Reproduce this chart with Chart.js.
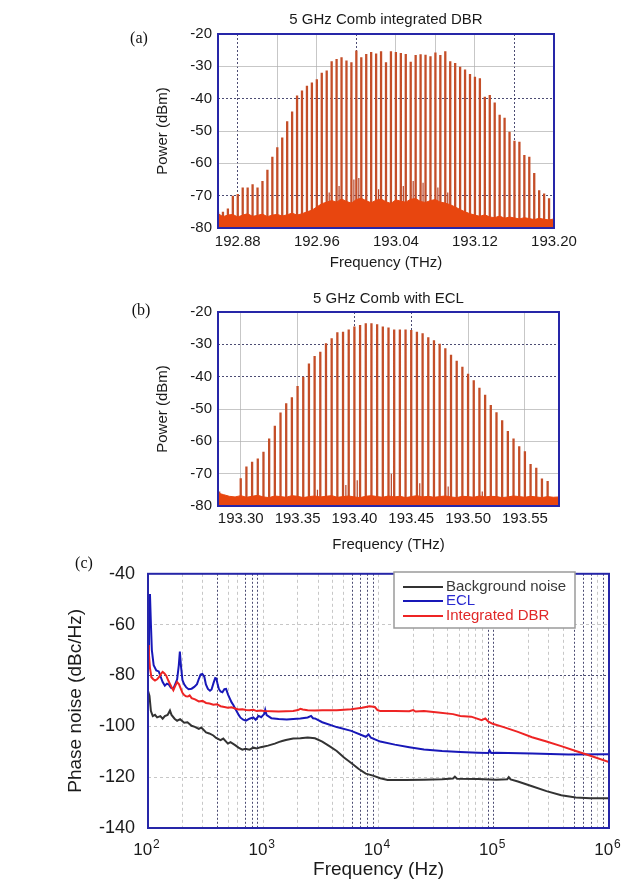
<!DOCTYPE html>
<html>
<head>
<meta charset="utf-8">
<script src="https://cdn.jsdelivr.net/npm/chart.js@4.4.0/dist/chart.umd.min.js"></script>
<style>
  body { margin: 0; background: #fff; }
  .panel { position: absolute; left: 0; }
  canvas { display: block; }
</style>
</head>
<body>
<div class="panel" style="top:0"><canvas id="combA" width="630" height="280"></canvas></div>
<div class="panel" style="top:280px"><canvas id="combB" width="630" height="280"></canvas></div>
<div class="panel" style="top:550px"><canvas id="noise" width="630" height="336"></canvas></div>
<script>
// comb lines are 5 GHz apart (0.005 THz)
const combStep = 0.005;

// ---- (a) 5 GHz comb, integrated DBR ----
const combStartA = 192.860;
const peaksA = [
  -75, -75, -74, -70, -69.5, -67.5, -67.5, -66.5, -67.5, -65.5,
  -62, -58, -55, -52, -47, -44, -39, -37.5, -36, -35,
  -34, -32, -31.3, -28.4, -27.7, -27.2, -28.2, -28.7, -25.1, -27.2,
  -26.2, -25.6, -26, -25.3, -28.7, -25.3, -25.6, -25.9, -26.2, -28.6,
  -26.5, -26.3, -26.4, -26.9, -25.7, -26.5, -25.3, -28.4, -29, -30.1,
  -31, -32.4, -33.2, -33.7, -39.4, -38.9, -41.2, -45, -45.9, -50.2,
  -53, -53.3, -57.4, -58, -63, -68.3, -69.3, -70.8
];
// top of the noise floor, sampled every 5 GHz from 192.86 THz
const floorStartA = 192.860;
const floorA = [
  -75.5, -76.5, -76, -75.8, -76.6, -76, -75.6, -76.4, -76.1, -75.7,
  -76.5, -76, -75.8, -76.3, -75.9, -75.4, -76, -75.6,
  -75, -74.5, -73.5, -72.5, -72,
  -71.5, -72, -71, -71.8, -72.3, -71.2, -70.8, -71.6, -72.2, -71.4,
  -71, -71.9, -72.4, -71.3, -71.7, -72, -71.1, -70.9, -71.8, -72.1,
  -71.5, -71.2, -72, -72.3,
  -72.8, -73.5, -74.3, -75, -75.6,
  -76, -76.4, -75.9, -76.6, -76.8, -76.3, -77, -76.6, -76.9, -77.2,
  -76.8, -77.1, -77.4, -77, -77.3, -77.5, -77.2
];
const sideFreqA = [192.9725, 192.9825, 192.9975, 193.0025, 193.0225, 193.0475, 193.0575, 193.0675, 193.0825, 193.0925];
const sideValA = [-69, -67, -65, -64.5, -68, -67, -65.5, -66, -67.5, -69];
const gridTicksA = [192.88, 192.92, 192.96, 193.00, 193.04, 193.08, 193.12, 193.16, 193.20];
const labelTicksA = [192.88, 192.96, 193.04, 193.12, 193.20];
const darkGridXA = [192.88, 193.00, 193.16];
const darkGridYA = [-40, -70];

// ---- (b) 5 GHz comb with ECL ----
const combStartB = 193.300;
const peaksB = [
  -71.4, -67.8, -66.3, -65.3, -63.2, -59.1, -55.2, -51.1, -48.2, -46.4,
  -42.9, -40, -35.9, -33.6, -32.3, -29.7, -28.1, -26.3, -26.1, -25.4,
  -24.5, -24, -23.5, -23.5, -23.8, -24.5, -24.8, -25.4, -25.4, -25.4,
  -25.6, -26.1, -26.6, -27.8, -28.7, -29.8, -31.2, -33.2, -35.1, -36.9,
  -39.1, -41.1, -43.4, -45.6, -48.8, -51, -53.5, -56.8, -59.1, -61.5,
  -63.1, -67, -68.2, -71.5, -72.3
];
const floorStartB = 193.280;
const floorB = [
  -76, -76.5, -77, -77.2, -76.8, -77.3, -77, -76.7, -77.2, -77.4,
  -76.9, -77.1, -77.3, -76.8, -77, -77.4, -77.1, -76.9, -77.2, -77,
  -76.8, -77.3, -77.1, -76.9, -77.2, -77.4, -77, -76.8, -77.1, -77.3,
  -76.9, -77.2, -77, -77.4, -77.1, -76.8, -77.2, -77, -77.3, -77.1,
  -76.9, -77.2, -77.4, -77, -77.1, -77.3, -76.9, -77.2, -77, -77.1,
  -77.4, -77.2, -76.9, -77.1, -77.3, -77, -77.2, -77.4, -77.1, -77.3,
  -77.2
];
const sideFreqB = [193.2815, 193.3675, 193.3925, 193.4025, 193.4325, 193.4575, 193.4825, 193.5125];
const sideValB = [-75.5, -75, -73.5, -72, -70, -73, -74, -75.5];
const gridTicksB = [193.30, 193.35, 193.40, 193.45, 193.50, 193.55];
const darkGridXB = [193.40, 193.45];
const darkGridYB = [-30, -40];

// ---- (c) phase noise ----
const seriesNames = ['Background noise', 'ECL', 'Integrated DBR'];
const seriesColors = ['#333333', '#1818b8', '#ee2424'];
const legendTextColors = ['#3a3a3a', '#2a2ad0', '#e02828'];

const bgFreq = [100, 103, 106, 110, 115, 120, 128, 134, 140, 148, 155, 160, 170, 179, 190, 206, 220, 239, 255, 276,
  290, 319, 340, 369, 390, 426, 450, 493, 520, 570, 610, 658, 700, 761, 820, 880, 950, 1018, 1100, 1176,
  1260, 1360, 1460, 1572, 1818, 2100, 2430, 2810, 3250, 3750, 4340, 5020, 5800, 6700, 7750, 8960, 10360, 11980, 13850, 17200,
  24800, 35600, 44300, 46000, 48000, 73000, 105000, 131000, 135000, 140000, 162000, 215000, 287000, 385000, 515000, 690000, 1000000];
const bgVal = [-86, -88, -94, -96, -95.5, -96.5, -96, -97, -96, -95.5, -93.8, -95.5, -97, -97.8, -97.2, -98.6, -98.4, -99.8, -100.2, -101,
  -100.5, -102.4, -102.8, -103.6, -104.6, -105.4, -104.8, -106.8, -106.2, -107.4, -108.4, -109.2, -108.8, -109.2, -108.4, -108.7, -108.2, -107.9, -107.6, -107.2,
  -106.8, -106.2, -105.8, -105.4, -104.8, -104.7, -104.4, -104.7, -106, -107.8, -109.7, -112.3, -114.4, -116.7, -118.6, -119.4, -120.4, -121.1, -121.1, -121.1,
  -121, -120.8, -120.5, -119.8, -120.6, -120.7, -121, -120.8, -120, -120.9, -121.7, -123.6, -125.5, -127.1, -128, -128.3, -128.3];

const eclFreq = [100, 102, 104, 106, 108, 112, 118, 124, 130, 134, 140, 146, 152, 158, 166, 172, 179, 185, 189, 193,
  199, 206, 214, 225, 239, 252, 266, 278, 286, 296, 308, 318, 331, 345, 356, 370, 383, 392, 402, 412,
  426, 442, 460, 476, 495, 512, 530, 550, 570, 590, 612, 635, 670, 708, 760, 819, 860, 913, 960, 1018,
  1040, 1070, 1176, 1360, 1600, 1818, 2100, 2430, 2600, 2700, 2810, 3250, 4340, 5800, 7750, 8200, 8600, 10360, 13850, 18500,
  24800, 35600, 51200, 73000, 90000, 92000, 95000, 105000, 215000, 445000, 1000000];
const eclVal = [-72, -58, -48, -60, -70, -76, -78, -78.4, -81, -82.6, -84, -83.2, -83.6, -84.8, -85.2, -83.5, -81.5, -76, -70.6, -76,
  -81.8, -83.5, -84.6, -85.4, -85.2, -84.5, -83.4, -81, -79.6, -79.4, -80.5, -83.5, -85.3, -86, -85.5, -83, -81, -81.2, -83.5, -85.3,
  -86.3, -86.6, -85.4, -85.3, -87.5, -89, -90.5, -91.6, -93, -94.2, -95.5, -96.6, -97.4, -97.8, -97, -96.5, -97.4, -95.9, -96.4, -95.2,
  -93.5, -95.6, -96.8, -97.1, -97.3, -97.1, -96.9, -96.5, -95.9, -96.8, -96.9, -98.4, -100.3, -101.8, -104.1, -103.2, -104.5, -106, -107.2, -108.2,
  -109.1, -109.7, -110.1, -110.4, -110.5, -109.5, -110.5, -110.4, -110.7, -111.1, -111];

const dbrFreq = [100, 102, 104, 107, 111, 115, 120, 124, 130, 134, 139, 144, 150, 155, 160, 166, 172, 179, 186, 192,
  199, 206, 214, 222, 230, 239, 256, 276, 297, 319, 342, 369, 397, 426, 460, 493, 530, 570, 610, 658,
  710, 761, 820, 880, 950, 1018, 1176, 1360, 1570, 1818, 2000, 2100, 2200, 2430, 2800, 3250, 4340, 5800, 7200, 8350,
  9300, 9800, 10360, 13850, 18500, 20000, 21000, 24800, 33000, 44300, 51200, 63700, 78600, 84500, 90000, 97900, 122000, 162000, 215000, 287000,
  385000, 515000, 690000, 1000000];
const dbrVal = [-68, -72, -77, -80.7, -81.5, -82, -81.5, -80.8, -79.3, -78.6, -79.2, -80.1, -82, -83.3, -84.5, -85.8, -84.2, -82.6, -83.5, -85.1,
  -86.8, -87.7, -88.2, -88.3, -87.8, -88.9, -89.4, -90.2, -90, -90.8, -91, -91.5, -91.3, -92.1, -92.4, -92.7, -92.5, -93, -93.4, -93.3,
  -93.6, -93.7, -93.5, -94, -93.8, -94, -94.1, -94.2, -94.1, -94, -93.6, -93.1, -93.4, -93.7, -93.8, -93.7, -93.7, -93.3, -92.7, -92.1,
  -92.4, -93.6, -94, -94, -94.1, -93.6, -94.2, -94, -94.6, -95.2, -95.9, -96.2, -97.6, -96.9, -98.2, -99, -100.3, -102.2, -104.3, -106,
  -107.8, -109.7, -111.6, -114.1];

// decade tick labels: mantissa and exponent
const decadeTicks = [100, 1000, 10000, 100000, 1000000];
const decadeExps = ['2', '3', '4', '5', '6'];
const darkGridXC = [400, 700, 800, 900, 6000, 7000, 8000, 9000, 90000, 100000, 500000, 600000, 700000, 900000];
const darkGridYC = [-80];

// ---- shared styling ----
Chart.defaults.font.family = '"Liberation Sans", Arial, sans-serif';
Chart.defaults.color = '#1a1a1a';

const spikeColor = '#c44e28';
const sideColor = '#b4442a';
const floorColor = '#e8460f';
const frameColor = '#2626a8';
const gridDark = 'rgba(45,45,90,0.85)';
const gridLight = 'rgba(175,175,175,0.7)';

const isIn = (list, v) => list.some(t => Math.abs(t - v) < 1e-6);

// vertical spike for every comb line, returning to the floor in between
function spikes(freqs, vals, base) {
  const pts = [];
  freqs.forEach((f, i) => {
    pts.push({ x: f, y: base }, { x: f, y: vals[i] }, { x: f, y: base });
  });
  return pts;
}
function evenFreqs(start, n) {
  const out = [];
  for (let i = 0; i < n; i++) out.push(+(start + i * combStep).toFixed(4));
  return out;
}
function toPoints(xs, ys) {
  return xs.map((x, i) => ({ x: x, y: ys[i] }));
}

function gridFor(darkList, lightDash) {
  return {
    grid: {
      drawTicks: false,
      lineWidth: 1,
      color: c => (c.tick && isIn(darkList, c.tick.value)) ? gridDark : gridLight
    },
    border: {
      display: false,
      color: gridLight,
      dash: c => c.tick ? (isIn(darkList, c.tick.value) ? [2, 2] : lightDash) : []
    }
  };
}

// blue box around the plot area plus the panel tag
const framePlugin = {
  id: 'frame',
  afterDraw(chart, args, opts) {
    const { ctx, chartArea: a } = chart;
    ctx.save();
    ctx.strokeStyle = frameColor;
    ctx.lineWidth = 2;
    ctx.strokeRect(a.left, a.top, a.right - a.left, a.bottom - a.top);
    if (opts.tag) {
      ctx.fillStyle = '#111';
      ctx.font = '16px "Liberation Serif", "DejaVu Serif", serif';
      ctx.textAlign = 'center';
      ctx.textBaseline = 'middle';
      ctx.fillText(opts.tag, opts.tagX, opts.tagY);
    }
    ctx.restore();
  }
};

// 10^n labels under the log axis, exponent raised and smaller
const powerLabels = {
  id: 'powerLabels',
  afterDraw(chart, args, opts) {
    const scale = chart.scales.x;
    const ctx = chart.ctx;
    ctx.save();
    ctx.fillStyle = '#1a1a1a';
    ctx.textBaseline = 'alphabetic';
    ctx.textAlign = 'left';
    decadeTicks.forEach((v, i) => {
      const x = scale.getPixelForValue(v);
      ctx.font = '17px "Liberation Sans", Arial, sans-serif';
      const wBase = ctx.measureText('10').width;
      ctx.font = '12px "Liberation Sans", Arial, sans-serif';
      const wExp = ctx.measureText(decadeExps[i]).width;
      const x0 = x - (wBase + wExp) / 2 - 2;
      ctx.font = '17px "Liberation Sans", Arial, sans-serif';
      ctx.fillText('10', x0, scale.top + opts.baseY);
      ctx.font = '12px "Liberation Sans", Arial, sans-serif';
      ctx.fillText(decadeExps[i], x0 + wBase + 1, scale.top + opts.expY);
    });
    ctx.restore();
  }
};

// boxed legend inside the phase noise plot
const noiseLegend = {
  id: 'noiseLegend',
  afterDraw(chart, args, opts) {
    if (!opts.box) return;
    const ctx = chart.ctx;
    const b = opts.box;
    ctx.save();
    ctx.fillStyle = '#fff';
    ctx.fillRect(b.x, b.y, b.w, b.h);
    ctx.strokeStyle = '#9a9a9a';
    ctx.lineWidth = 1.5;
    ctx.strokeRect(b.x, b.y, b.w, b.h);
    ctx.font = '15px "Liberation Sans", Arial, sans-serif';
    ctx.textBaseline = 'middle';
    ctx.textAlign = 'left';
    seriesNames.forEach((name, i) => {
      const y = opts.rows[i];
      ctx.strokeStyle = seriesColors[i];
      ctx.lineWidth = 2;
      ctx.beginPath();
      ctx.moveTo(opts.lineX0, y);
      ctx.lineTo(opts.lineX1, y);
      ctx.stroke();
      ctx.fillStyle = legendTextColors[i];
      ctx.fillText(name, opts.textX, y);
    });
    ctx.restore();
  }
};

function combChart(id, p) {
  const xGrid = gridFor(p.darkX, []);
  const yGrid = gridFor(p.darkY, []);
  return new Chart(document.getElementById(id), {
    type: 'line',
    data: {
      datasets: [
        { data: p.floor, borderColor: floorColor, backgroundColor: floorColor, borderWidth: 1, fill: 'start', pointRadius: 0, tension: 0 },
        { data: p.side, borderColor: sideColor, borderWidth: 1.2, pointRadius: 0, borderJoinStyle: 'bevel' },
        { data: p.lines, borderColor: spikeColor, borderWidth: 2.3, pointRadius: 0, borderJoinStyle: 'bevel' }
      ]
    },
    options: {
      responsive: false,
      animation: false,
      layout: { padding: p.padding },
      plugins: {
        legend: { display: false },
        tooltip: { enabled: false },
        title: {
          display: true,
          fullSize: false,
          text: p.title,
          color: '#1a1a1a',
          font: { size: 15, weight: 'normal' },
          padding: p.titlePad
        },
        frame: { tag: p.tag, tagX: p.tagX, tagY: p.tagY }
      },
      scales: {
        x: {
          type: 'linear',
          min: p.xMin,
          max: p.xMax,
          afterFit: s => { s.height = p.xHeight; },
          afterBuildTicks: s => { s.ticks = p.gridTicks.map(v => ({ value: v })); },
          ticks: {
            autoSkip: false,
            maxRotation: 0,
            minRotation: 0,
            padding: p.xTickPad,
            font: { size: 15 },
            color: '#1a1a1a',
            callback: v => isIn(p.labelTicks, v) ? v.toFixed(2) : ''
          },
          title: { display: true, text: 'Frequency (THz)', font: { size: 15 }, color: '#1a1a1a', padding: { top: 0, bottom: p.xTitlePad } },
          grid: xGrid.grid,
          border: xGrid.border
        },
        y: {
          min: -80,
          max: -20,
          afterFit: s => { s.width = p.yWidth; },
          ticks: { stepSize: 10, padding: 6, font: { size: 15 }, color: '#1a1a1a' },
          title: { display: true, text: 'Power (dBm)', font: { size: 15 }, color: '#1a1a1a', padding: { top: 4, bottom: 0 } },
          grid: yGrid.grid,
          border: yGrid.border
        }
      }
    },
    plugins: [framePlugin]
  });
}

combChart('combA', {
  title: '5 GHz Comb integrated DBR',
  titlePad: { top: 11, bottom: 5 },
  tag: '(a)', tagX: 139, tagY: 39,
  xMin: 192.86, xMax: 193.20,
  gridTicks: gridTicksA, labelTicks: labelTicksA,
  darkX: darkGridXA, darkY: darkGridYA,
  lines: spikes(evenFreqs(combStartA, peaksA.length), peaksA, -80),
  side: spikes(sideFreqA, sideValA, -80),
  floor: toPoints(evenFreqs(floorStartA, floorA.length), floorA),
  padding: { left: 150, right: 76, top: 0, bottom: 0 },
  yWidth: 68, xHeight: 52, xTickPad: 5, xTitlePad: 8
});

combChart('combB', {
  title: '5 GHz Comb with ECL',
  titlePad: { top: 10, bottom: 4 },
  tag: '(b)', tagX: 141, tagY: 31,
  xMin: 193.28, xMax: 193.58,
  gridTicks: gridTicksB, labelTicks: gridTicksB,
  darkX: darkGridXB, darkY: darkGridYB,
  lines: spikes(evenFreqs(combStartB, peaksB.length), peaksB, -80),
  side: spikes(sideFreqB, sideValB, -80),
  floor: toPoints(evenFreqs(floorStartB, floorB.length), floorB),
  padding: { left: 150, right: 71, top: 0, bottom: 0 },
  yWidth: 68, xHeight: 54, xTickPad: 4, xTitlePad: 6
});

// log grid: 1..9 in every decade from 10^2 to 10^6
const gridTicksC = [];
for (let d = 100; d < 1000000; d *= 10) {
  for (let m = 1; m < 10; m++) gridTicksC.push(d * m);
}
gridTicksC.push(1000000);

const xGridC = gridFor(darkGridXC, [3, 3]);
const yGridC = gridFor(darkGridYC, [3, 3]);

new Chart(document.getElementById('noise'), {
  type: 'line',
  data: {
    datasets: [
      { label: seriesNames[2], data: toPoints(dbrFreq, dbrVal), borderColor: seriesColors[2], borderWidth: 2, pointRadius: 0, tension: 0 },
      { label: seriesNames[1], data: toPoints(eclFreq, eclVal), borderColor: seriesColors[1], borderWidth: 2, pointRadius: 0, tension: 0 },
      { label: seriesNames[0], data: toPoints(bgFreq, bgVal), borderColor: seriesColors[0], borderWidth: 2, pointRadius: 0, tension: 0 }
    ]
  },
  options: {
    responsive: false,
    animation: false,
    layout: { padding: { left: 60, right: 21, top: 14, bottom: 0 } },
    plugins: {
      legend: { display: false },
      tooltip: { enabled: false },
      frame: { tag: '(c)', tagX: 84, tagY: 14 },
      powerLabels: { baseY: 27, expY: 20 },
      noiseLegend: {
        box: { x: 394, y: 22, w: 181, h: 56 },
        rows: [37, 51, 66],
        lineX0: 403, lineX1: 443, textX: 446
      }
    },
    scales: {
      x: {
        type: 'logarithmic',
        min: 100,
        max: 1000000,
        afterFit: s => { s.height = 58; },
        afterBuildTicks: s => { s.ticks = gridTicksC.map(v => ({ value: v })); },
        ticks: {
          autoSkip: false,
          maxRotation: 0,
          minRotation: 0,
          callback: () => ''
        },
        title: { display: true, text: 'Frequency (Hz)', font: { size: 19 }, color: '#1a1a1a', padding: { top: 0, bottom: 5 } },
        grid: xGridC.grid,
        border: xGridC.border
      },
      y: {
        min: -140,
        max: -40,
        afterFit: s => { s.width = 88; },
        ticks: { stepSize: 20, padding: 13, font: { size: 18 }, color: '#1a1a1a' },
        title: { display: true, text: 'Phase noise (dBc/Hz)', font: { size: 19 }, color: '#1a1a1a', padding: { top: 4, bottom: 0 } },
        grid: yGridC.grid,
        border: yGridC.border
      }
    }
  },
  plugins: [framePlugin, powerLabels, noiseLegend]
});
</script>
</body>
</html>
